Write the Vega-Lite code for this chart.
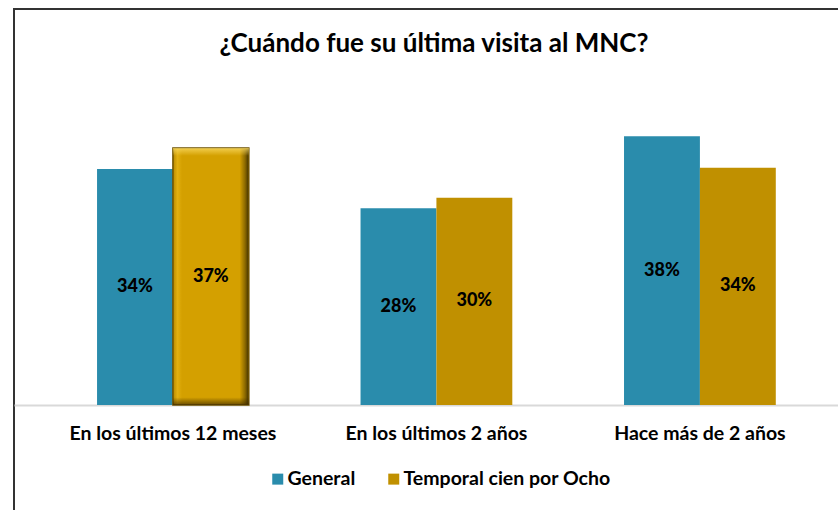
{
  "$schema": "https://vega.github.io/schema/vega-lite/v6.json",
  "width": 840,
  "height": 508,
  "autosize": {"type": "none"},
  "padding": {"left": 14, "top": 9, "right": 0, "bottom": 0},
  "background": "white",
  "config": {
    "view": {"stroke": "#333333", "strokeWidth": 2},
    "font": "Lato"
  },
  "title": {
    "text": "¿Cuándo fue su última visita al MNC?",
    "font": "Lato",
    "fontSize": 26,
    "fontWeight": "bold",
    "color": "#000000",
    "anchor": "middle",
    "baseline": "middle",
    "offset": 0,
    "dy": 61
  },
  "data": {
    "values": [
      {"cat": "En los últimos 12 meses", "series": "General", "value": 33.7, "label": "34%"},
      {"cat": "En los últimos 12 meses", "series": "Temporal cien por Ocho", "value": 36.7, "label": "37%"},
      {"cat": "En los últimos 2 años", "series": "General", "value": 28.1, "label": "28%"},
      {"cat": "En los últimos 2 años", "series": "Temporal cien por Ocho", "value": 29.6, "label": "30%"},
      {"cat": "Hace más de 2 años", "series": "General", "value": 38.4, "label": "38%"},
      {"cat": "Hace más de 2 años", "series": "Temporal cien por Ocho", "value": 33.9, "label": "34%"}
    ]
  },
  "encoding": {
    "x": {
      "field": "cat",
      "type": "nominal",
      "sort": null,
      "scale": {"paddingInner": 0.424, "paddingOuter": 0.306, "align": 0.515, "round": false},
      "axis": {
        "orient": "bottom",
        "offset": -112,
        "domain": true,
        "domainColor": "#d9d9d9",
        "domainWidth": 2,
        "ticks": false,
        "tickSize": 0,
        "grid": false,
        "labelAngle": 0,
        "labelPadding": 19,
        "labelLimit": 0,
        "labelFont": "Lato",
        "labelFontSize": 19.5,
        "labelFontWeight": "bold",
        "labelColor": "#000000",
        "title": null
      }
    },
    "xOffset": {"field": "series", "type": "nominal", "sort": ["General", "Temporal cien por Ocho"], "scale": {"paddingInner": 0, "paddingOuter": 0}}
  },
  "layer": [
    {
      "mark": {"type": "bar"},
      "encoding": {
        "y": {"field": "value", "type": "quantitative", "scale": {"domain": [-16, 56.57], "nice": false, "zero": false}, "axis": null},
        "y2": {"datum": 0},
        "color": {
          "field": "series",
          "type": "nominal",
          "scale": {"domain": ["General", "Temporal cien por Ocho"], "range": ["#2A8CAC", "#C09000"]},
          "legend": {
            "title": null,
            "orient": "none",
            "legendX": 254,
            "legendY": 460,
            "direction": "horizontal",
            "padding": 0,
            "symbolType": "square",
            "symbolSize": 121,
            "symbolStrokeWidth": 0,
            "labelFont": "Lato",
            "labelFontSize": 19.5,
            "labelFontWeight": "bold",
            "labelColor": "#000000",
            "labelLimit": 0,
            "labelOffset": 0,
            "columnPadding": 28
          }
        }
      }
    },
    {
      "transform": [{"filter": "datum.cat === 'En los últimos 12 meses' && datum.series === 'Temporal cien por Ocho'"}],
      "mark": {
        "type": "bar",
        "stroke": "#6e5200",
        "strokeWidth": 1.5,
        "color": {
          "gradient": "linear", "x1": 0, "y1": 0, "x2": 1, "y2": 0,
          "stops": [
            {"offset": 0, "color": "#b88a00"},
            {"offset": 0.06, "color": "#e2b010"},
            {"offset": 0.12, "color": "#d4a000"},
            {"offset": 0.88, "color": "#d4a000"},
            {"offset": 0.95, "color": "#8c6a00"},
            {"offset": 1, "color": "#3f3000"}
          ]
        }
      },
      "encoding": {
        "y": {"field": "value", "type": "quantitative"},
        "y2": {"datum": 0}
      }
    },
    {
      "transform": [{"filter": "datum.cat === 'En los últimos 12 meses' && datum.series === 'Temporal cien por Ocho'"}],
      "mark": {
        "type": "bar",
        "color": {
          "gradient": "linear", "x1": 0, "y1": 0, "x2": 0, "y2": 1,
          "stops": [
            {"offset": 0, "color": "rgba(255,225,110,0.7)"},
            {"offset": 0.03, "color": "rgba(255,225,110,0)"},
            {"offset": 0.97, "color": "rgba(60,40,0,0)"},
            {"offset": 1, "color": "rgba(60,40,0,0.7)"}
          ]
        }
      },
      "encoding": {
        "y": {"field": "value", "type": "quantitative"},
        "y2": {"datum": 0}
      }
    },
    {
      "transform": [{"calculate": "datum.value / 2", "as": "mid"}],
      "mark": {"type": "text", "font": "Lato", "fontSize": 18, "fontWeight": 900, "color": "#000000", "align": "center", "baseline": "middle"},
      "encoding": {
        "y": {"field": "mid", "type": "quantitative"},
        "text": {"field": "label"}
      }
    }
  ]
}
